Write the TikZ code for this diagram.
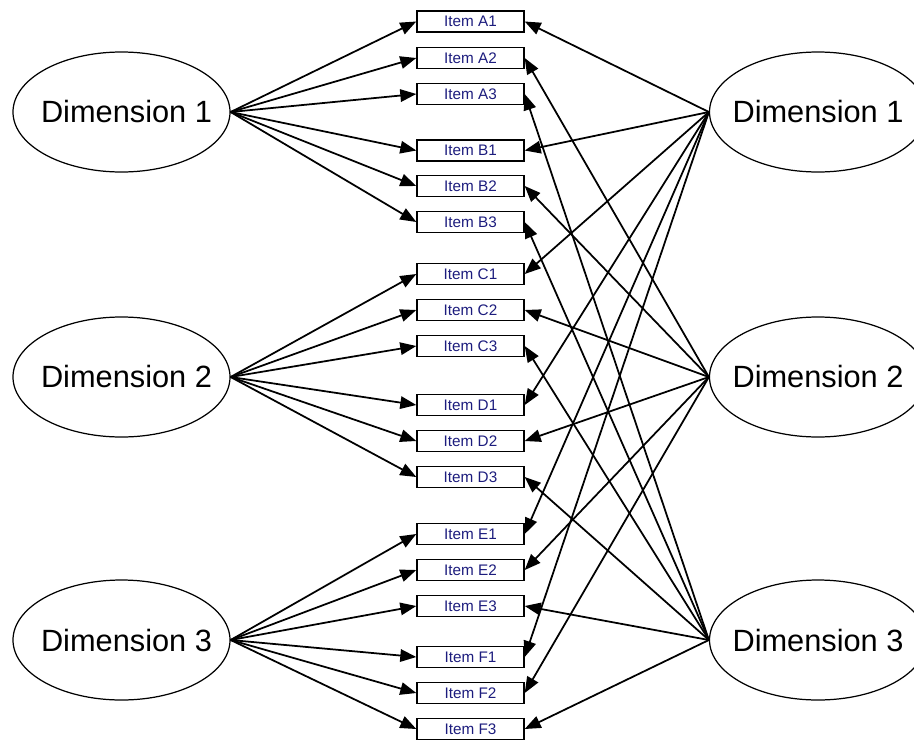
\documentclass[tikz,border=0pt]{standalone}
\usepackage{fontspec}
\setmainfont{Liberation Sans}
\usetikzlibrary{arrows.meta,shapes.geometric}
\definecolor{itemnavy}{RGB}{28,28,125}

\begin{document}
\begin{tikzpicture}[>={Triangle[length=0.32cm,width=0.25cm]},
  dim/.style={ellipse, draw, line width=0.7pt, inner sep=0pt,
    minimum width=4.34cm, minimum height=2.4cm,
    font=\fontsize{17.5}{20}\selectfont},
  item/.style={rectangle, draw, line width=0.8pt, inner sep=0pt,
    minimum width=2.14cm, minimum height=0.42cm,
    text=itemnavy, font=\fontsize{8.7}{10}\selectfont},
  load/.style={->, line width=1pt}]
  \useasboundingbox (0,0) rectangle (18.28,-14.78);

  %% Items
  \foreach \n/\y in {A1/0.43, A2/1.16, A3/1.88,
                     B1/3.01, B2/3.72, B3/4.44,
                     C1/5.48, C2/6.20, C3/6.92,
                     D1/8.10, D2/8.82, D3/9.54,
                     E1/10.68, E2/11.40, E3/12.12,
                     F1/13.14, F2/13.86, F3/14.58}{
    \node[item] (\n) at (9.41,-\y) {Item \n};
  }

  %% Dimensions, left
  \node[dim] (L1) at (2.43,-2.24)  {\makebox[0pt]{\hspace{0.2cm}Dimension 1}};
  \node[dim] (L2) at (2.43,-7.54)  {\makebox[0pt]{\hspace{0.2cm}Dimension 2}};
  \node[dim] (L3) at (2.43,-12.80) {\makebox[0pt]{\hspace{0.2cm}Dimension 3}};
  %% Dimensions, right
  \node[dim] (R1) at (16.36,-2.24)  {\makebox[0pt]{Dimension 1}};
  \node[dim] (R2) at (16.36,-7.54)  {\makebox[0pt]{Dimension 2}};
  \node[dim] (R3) at (16.36,-12.80) {\makebox[0pt]{Dimension 3}};

  %% Left loadings
  \foreach \d/\g in {1/A, 1/B, 2/C, 2/D, 3/E, 3/F}
    \foreach \k in {1,2,3}
      \draw[load] (L\d.east) -- (\g\k.west);
  %% Right loadings
  \foreach \k in {1,2,3}
    \foreach \g in {A,B,C,D,E,F}
      \draw[load] (R\k.west) -- (\g\k.east);
\end{tikzpicture}
\end{document}
